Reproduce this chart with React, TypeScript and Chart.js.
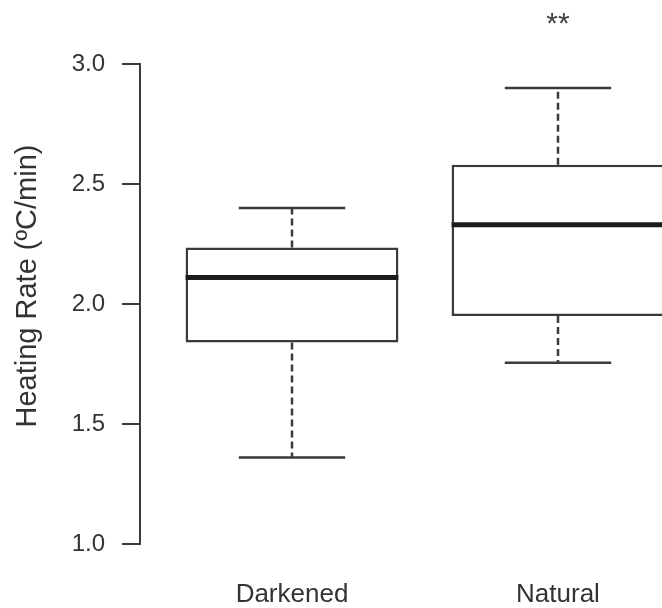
import React, { useEffect, useRef } from "react";
import { Chart, registerables } from "chart.js";

Chart.register(...registerables);

const categories = ["Darkened", "Natural"];
const positions = [1, 2];
const lowerWhisker = [1.36, 1.755];
const q1 = [1.84, 1.95];
const median = [2.11, 2.33];
const q3 = [2.235, 2.58];
const upperWhisker = [2.4, 2.9];
const yTicks = [1.0, 1.5, 2.0, 2.5, 3.0];
const yTitle = "Heating Rate (ºC/min)";
const significance = ["", "**"];
const sigY = 3.165;

const FONT = "'Liberation Sans', Arial, Helvetica, sans-serif";
const LINE = "#3a3a3a";

const boxPlugin = {
  id: "boxExtras",
  afterDatasetsDraw(chart: any) {
    const ctx = chart.ctx;
    const xs = chart.scales.x;
    const ys = chart.scales.y;
    const meta = chart.getDatasetMeta(0);
    ctx.save();
    positions.forEach((p, i) => {
      const bar = meta.data[i];
      const cx = xs.getPixelForValue(p);
      const half = bar ? bar.width / 2 : 106;
      const capHalf = half / 2;
      ctx.strokeStyle = LINE;
      ctx.lineWidth = 2.5;
      ctx.setLineDash([7, 4]);
      ctx.beginPath();
      ctx.moveTo(cx, ys.getPixelForValue(q3[i]));
      ctx.lineTo(cx, ys.getPixelForValue(upperWhisker[i]));
      ctx.moveTo(cx, ys.getPixelForValue(q1[i]));
      ctx.lineTo(cx, ys.getPixelForValue(lowerWhisker[i]));
      ctx.stroke();
      ctx.setLineDash([]);
      ctx.beginPath();
      const yu = ys.getPixelForValue(upperWhisker[i]);
      const yl = ys.getPixelForValue(lowerWhisker[i]);
      ctx.moveTo(cx - capHalf, yu);
      ctx.lineTo(cx + capHalf, yu);
      ctx.moveTo(cx - capHalf, yl);
      ctx.lineTo(cx + capHalf, yl);
      ctx.stroke();
      ctx.strokeStyle = "#1c1c1c";
      ctx.lineWidth = 5;
      ctx.beginPath();
      const ym = ys.getPixelForValue(median[i]);
      ctx.moveTo(cx - half, ym);
      ctx.lineTo(cx + half, ym);
      ctx.stroke();
      if (significance[i]) {
        ctx.fillStyle = "#444";
        ctx.font = `30px ${FONT}`;
        ctx.textAlign = "center";
        ctx.textBaseline = "middle";
        ctx.fillText(significance[i], cx, ys.getPixelForValue(sigY));
      }
    });
    ctx.fillStyle = "#333";
    ctx.font = `29px ${FONT}`;
    ctx.textAlign = "center";
    ctx.textBaseline = "middle";
    ctx.translate(28, 286);
    ctx.rotate(-Math.PI / 2);
    ctx.fillText(yTitle, 0, 0);
    ctx.restore();
  },
};

export default function App() {
  const ref = useRef<HTMLCanvasElement>(null);
  useEffect(() => {
    if (!ref.current) return;
    const chart = new Chart(ref.current, {
      type: "bar",
      data: {
        datasets: [
          {
            data: positions.map((p, i) => ({ x: p, y: [q1[i], q3[i]] })) as any,
            backgroundColor: "#ffffff",
            borderColor: LINE,
            borderWidth: 2.5,
            borderSkipped: false,
            barPercentage: 0.8,
            categoryPercentage: 1.0,
            clip: false as any,
          },
        ],
      },
      options: {
        animation: false,
        responsive: false,
        maintainAspectRatio: false,
        layout: { padding: { top: 64, left: 0, right: 0, bottom: 0 } },
        plugins: { legend: { display: false }, tooltip: { enabled: false }, title: { display: false } },
        scales: {
          x: {
            type: "linear",
            offset: false,
            min: 0.4286,
            max: 2.391,
            grid: { display: false, drawTicks: false, offset: false },
            border: { display: false },
            afterBuildTicks: (s: any) => {
              s.ticks = positions.map((v) => ({ value: v }));
            },
            afterFit: (s: any) => {
              s.height = 64;
            },
            ticks: {
              autoSkip: false,
              maxRotation: 0,
              padding: 35,
              color: "#333",
              font: { family: FONT, size: 26 },
              callback: (v: any) => {
                const idx = positions.indexOf(Number(v));
                return idx >= 0 ? categories[idx] : "";
              },
            },
          },
          y: {
            type: "linear",
            min: 1,
            max: 3,
            afterBuildTicks: (s: any) => {
              s.ticks = yTicks.map((v) => ({ value: v }));
            },
            afterFit: (s: any) => {
              s.width = 140;
            },
            grid: {
              drawOnChartArea: false,
              drawTicks: true,
              tickLength: 18,
              color: LINE,
              lineWidth: 2,
            },
            border: { display: true, color: LINE, width: 2 },
            ticks: {
              padding: 17,
              color: "#333",
              font: { family: FONT, size: 24 },
              callback: (v: any) => Number(v).toFixed(1),
            },
          },
        },
      },
      plugins: [boxPlugin],
    });
    return () => chart.destroy();
  }, []);
  return (
    <div style={{ position: "absolute", left: 0, top: 0, width: 662, height: 608, overflow: "hidden", background: "#fff" }}>
      <canvas ref={ref} width={662} height={608} style={{ display: "block" }} />
    </div>
  );
}
